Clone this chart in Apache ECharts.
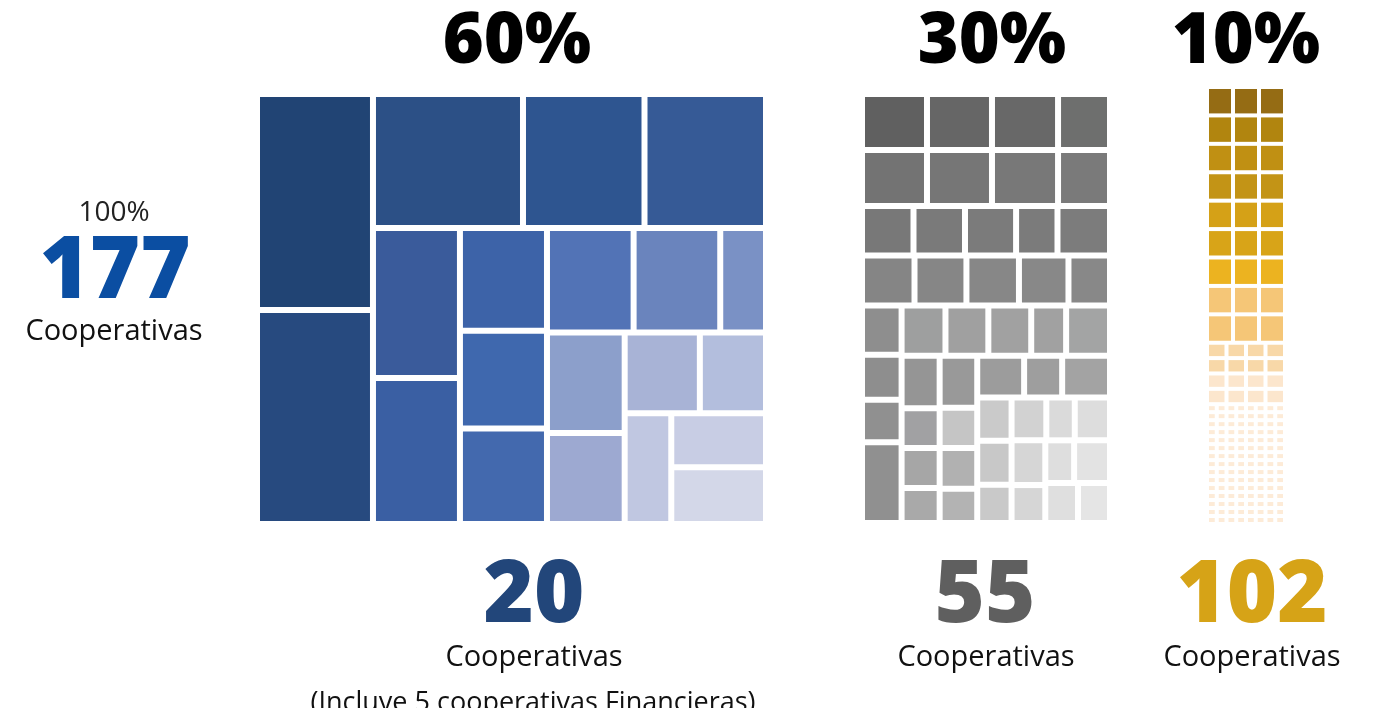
<!DOCTYPE html>
<html><head><meta charset="utf-8">
<script src="https://cdn.jsdelivr.net/npm/echarts@6/dist/echarts.min.js"></script>
<style>html,body{margin:0;padding:0;background:#fff}#c{width:1382px;height:714px}</style>
</head><body><div id="c"></div>
<script>
// ---------------- DATA ----------------
const shareLabels = ['60%', '30%', '10%'];
const countLabels = ['20', '55', '102'];
const totalShare = '100%';
const totalCount = '177';
const unitLabel = 'Cooperativas';
const noteLabel = '(Incluye 5 cooperativas Financieras)';

// Panel 1 (20 cooperativas): relative weight of every cell, grouped as drawn
const blueLeftCol      = [250.6, 248.2];
const blueTopRow       = [201.0, 162.8, 162.8];
const blueSecondCol    = [130.5, 127.0];
const blueThirdCol     = [89.4, 85.1, 83.2];
const blueInnerTopRow  = [90.5, 90.5, 47.8];
const blueFourthCol    = [78.2, 70.7];
const blueMidRow       = [60.8, 53.5];
const blueBottomRow    = [51.6, 51.1, 53.8];

// Panel 2 (55 cooperativas): rows of cells (first value of row 8 = tall cell spanning rows 8-9)
const grayRow1 = [364, 364, 370, 291];
const grayRow2 = [364, 364, 370, 291];
const grayRow3 = [255, 255, 253, 205, 260];
const grayRow4 = [263, 260, 263, 248, 208];
const grayRow5 = [195, 220, 215, 215, 175, 220];
const grayRow6 = [178, 200, 196, 196, 159, 200];
const grayRow7 = [168, 151, 151, 149, 149, 122, 151];
const grayRow8 = [320, 153, 153, 151, 151, 123, 153];
const grayRow9 = [133, 129, 131, 128, 131, 128];

// Panel 3 (102 cooperativas): weight of one cell per tier and number of cells per tier
const goldTierValue = [74, 30, 7.8];
const goldTierCount = [27, 16, 120];

// ---------------- STYLES / GROUPING ----------------
const blueLeftColColors     = ['#214474', '#274a7f'];
const blueTopRowColors      = ['#2c5086', '#2e5590', '#365a96'];
const blueSecondColColors   = ['#3a5b9b', '#3a5fa3'];
const blueThirdColColors    = ['#3d63a8', '#3f68ae', '#4369ae'];
const blueInnerTopRowColors = ['#5273b6', '#6a84bd', '#7a91c5'];
const blueFourthColColors   = ['#8c9fcb', '#9da9d1'];
const blueMidRowColors      = ['#a8b3d6', '#b3bedd'];
const blueBottomRowColors   = ['#c0c7e1', '#c8cde4', '#d3d7e8'];

const grayRowColors = [
  ['#606060', '#666666', '#686868', '#6e6f6e'],
  ['#737373', '#767676', '#787878', '#7a7a7a'],
  ['#787878', '#7a7a7a', '#7b7b7b', '#7b7b7b', '#7c7c7c'],
  ['#858585', '#868686', '#878787', '#888888', '#888888'],
  ['#8e8e8e', '#9e9f9f', '#a0a0a0', '#a1a1a1', '#a1a1a1', '#a3a4a4'],
  ['#8e8e8e', '#959595', '#999999', '#9c9c9c', '#9e9e9e', '#a3a3a3'],
  ['#909090', '#a1a1a3', '#c5c5c5', '#cacaca', '#d2d2d2', '#dadada', '#dddddd'],
  ['#909090', '#a6a6a6', '#b1b1b1', '#c8c8c8', '#d6d6d6', '#dedede', '#e3e3e3'],
  ['#a9a9a9', '#b3b3b3', '#c9c9c9', '#d6d6d6', '#dfdfdf', '#e5e5e5']
];
const goldBigRowColors = ['#956c14', '#b1850f', '#c09013', '#c39416', '#d5a117', '#d8a418', '#ecb320', '#f5c677', '#f5c677'];
const goldMidRowColors = ['#f8d8a8', '#f8d8a8', '#fce6cd', '#fce6cd'];
const goldTinyColor = '#fdebd7';
const goldCellsPerRow = [3, 4, 8];
const goldTinyFullRows = 6;
const goldTinyTailGroups = [9, 7, 8, 6, 7, 5, 6, 4, 4, 4, 3, 3, 2, 2, 2];

// ---------------- BUILD TREES ----------------
const leaves = (vals, cols) => vals.map((v, i) => ({ value: v, itemStyle: { color: cols[i] } }));
const grp = (...children) => ({ children });
const nest = list => list.length === 1 ? list[0] : grp(list[0], nest(list.slice(1)));

const blueTree = [
  grp(...leaves(blueLeftCol, blueLeftColColors)),
  grp(
    grp(...leaves(blueTopRow, blueTopRowColors)),
    grp(
      grp(...leaves(blueSecondCol, blueSecondColColors)),
      grp(
        grp(...leaves(blueThirdCol, blueThirdColColors)),
        grp(
          grp(...leaves(blueInnerTopRow, blueInnerTopRowColors)),
          grp(
            grp(...leaves(blueFourthCol, blueFourthColColors)),
            grp(
              grp(...leaves(blueMidRow, blueMidRowColors)),
              grp(...leaves(blueBottomRow, blueBottomRowColors))
            )
          )
        )
      )
    )
  )
];

const gr = [grayRow1, grayRow2, grayRow3, grayRow4, grayRow5, grayRow6, grayRow7, grayRow8, grayRow9];
const gc = (r, i) => ({ value: gr[r][i], itemStyle: { color: grayRowColors[r][i] } });
const grayRowNode = (r, from) => grp(...gr[r].slice(from).map((v, i) => gc(r, from + i)));
const grayTree = [
  grayRowNode(0, 0),
  grayRowNode(1, 0),
  grayRowNode(2, 0),
  grp(
    grayRowNode(3, 0),
    grp(
      grp(gc(4, 0), gc(5, 0), gc(6, 0), gc(7, 0)),
      grp(
        grayRowNode(4, 1),
        nest([
          grp(gc(5, 1), gc(6, 1), gc(7, 1), gc(8, 0)),
          grp(gc(5, 2), gc(6, 2), gc(7, 2), gc(8, 1)),
          grp(gc(5, 3), gc(5, 4), gc(5, 5)),
          grp(gc(6, 3), gc(7, 3), gc(8, 2)),
          grp(gc(6, 4), gc(6, 5), gc(6, 6)),
          grp(gc(7, 4), gc(8, 3)),
          grp(grp(gc(7, 5), gc(7, 6)), grp(gc(8, 4), gc(8, 5)))
        ])
      )
    )
  )
];

// gold: cells of each tier, grouped in rows (tail of tiny tier grouped so the grid stays regular)
const goldCell = (tier, color) => ({ value: goldTierValue[tier], itemStyle: { color } });
const goldTree = [];
for (let r = 0; r < goldTierCount[0] / goldCellsPerRow[0]; r++)
  goldTree.push(grp(...Array.from({ length: goldCellsPerRow[0] }, () => goldCell(0, goldBigRowColors[r]))));
for (let r = 0; r < goldTierCount[1] / goldCellsPerRow[1]; r++)
  goldTree.push(grp(...Array.from({ length: goldCellsPerRow[1] }, () => goldCell(1, goldMidRowColors[r]))));
for (let r = 0; r < goldTinyFullRows; r++)
  goldTree.push(grp(...Array.from({ length: goldCellsPerRow[2] }, () => goldCell(2, goldTinyColor))));
goldTree.push(nest(goldTinyTailGroups.map(n => grp(...Array.from({ length: n }, () => goldCell(2, goldTinyColor))))));

// ---------------- CHART ----------------
const levels = g => Array.from({ length: 20 }, () => ({
  itemStyle: { gapWidth: g, borderWidth: 0, borderColor: '#ffffff' },
  upperLabel: { show: false }, label: { show: false }
}));
const tm = (box, data, gap, ratio) => Object.assign({
  type: 'treemap', data, squareRatio: ratio, sort: false,
  roam: false, nodeClick: false, silent: true, animation: false,
  breadcrumb: { show: false }, label: { show: false }, upperLabel: { show: false },
  itemStyle: { gapWidth: gap, borderWidth: 0, borderColor: '#ffffff' },
  levels: levels(gap)
}, box);

const FONT = '"Open Sans", "Noto Sans", sans-serif';
const txt = (t, x, y, size, weight, color) => ({
  type: 'text', x, y, silent: true, z: 10,
  style: { text: t, fontSize: size, fontWeight: weight, fontFamily: FONT, fill: color, align: 'center', verticalAlign: 'middle' }
});

const chart = echarts.init(document.getElementById('c'), null, { renderer: 'canvas' });
chart.setOption({
  backgroundColor: '#ffffff',
  animation: false,
  series: [
    tm({ left: 260, top: 97, width: 503, height: 424 }, blueTree, 6, 0.01),
    tm({ left: 865, top: 97, width: 242, height: 423 }, grayTree, 6, 0.01),
    tm({ left: 1209, top: 89, width: 74, height: 433 }, goldTree, 4, 0.01)
  ],
  graphic: [
    txt(shareLabels[0], 517, 43, 70, 800, '#000000'),
    txt(shareLabels[1], 992, 43, 70, 800, '#000000'),
    txt(shareLabels[2], 1246, 43, 70, 800, '#000000'),
    txt(totalShare, 114, 213, 28, 400, '#222222'),
    txt(totalCount, 115, 273, 86, 800, '#0b4ea2'),
    txt(unitLabel, 114, 332, 29, 400, '#111111'),
    txt(countLabels[0], 534, 597, 86, 800, '#22467a'),
    txt(unitLabel, 534, 658, 29, 400, '#111111'),
    txt(noteLabel, 533, 703, 27, 400, '#111111'),
    txt(countLabels[1], 985, 597, 86, 800, '#5f5f5f'),
    txt(unitLabel, 986, 658, 29, 400, '#111111'),
    txt(countLabels[2], 1252, 597, 86, 800, '#d6a317'),
    txt(unitLabel, 1252, 658, 29, 400, '#111111'),
    { type: 'rect', shape: { x: 0, y: 708, width: 1382, height: 6 }, style: { fill: '#ffffff' }, silent: true, z: 20 }
  ]
});
</script></body></html>
